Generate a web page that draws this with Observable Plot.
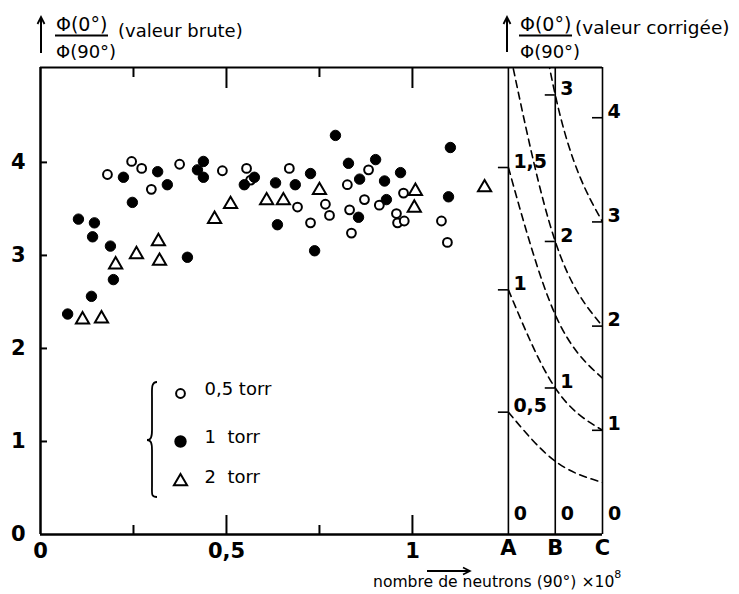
<!DOCTYPE html>
<html>
<head>
<meta charset="utf-8">
<script src="https://cdn.jsdelivr.net/npm/d3@7"></script>
<script src="https://cdn.jsdelivr.net/npm/@observablehq/plot@0.6"></script>
<style>
  html, body { margin: 0; padding: 0; background: #fff; }
  #chart { width: 739px; height: 594px; }
  svg text { font-family: "DejaVu Sans", sans-serif; }
</style>
</head>
<body>
<div id="chart"></div>
<script>
// ---------- DATA ----------
// x: nombre de neutrons (90°) ×10^8 ; y: Φ(0°)/Φ(90°) valeur brute
const torr05 = [
  [0.180,3.87],[0.245,4.01],[0.272,3.935],[0.298,3.71],[0.374,3.98],[0.489,3.91],
  [0.554,3.935],[0.565,3.81],[0.669,3.935],[0.691,3.52],[0.726,3.35],[0.766,3.55],
  [0.777,3.43],[0.825,3.76],[0.831,3.49],[0.836,3.24],[0.871,3.60],[0.882,3.92],
  [0.911,3.54],[0.957,3.45],[0.960,3.35],[0.976,3.67],[0.978,3.37],[1.078,3.37],[1.094,3.14]
];
const torr1 = [
  [0.073,2.37],[0.102,3.39],[0.137,2.56],[0.140,3.20],[0.145,3.35],[0.188,3.10],
  [0.196,2.74],[0.223,3.84],[0.247,3.57],[0.315,3.90],[0.341,3.76],[0.395,2.98],
  [0.422,3.92],[0.438,4.01],[0.438,3.84],[0.548,3.76],[0.575,3.84],[0.632,3.78],
  [0.637,3.33],[0.685,3.76],[0.726,3.88],[0.737,3.05],[0.793,4.29],[0.828,3.99],
  [0.855,3.41],[0.858,3.82],[0.901,4.03],[0.925,3.80],[0.930,3.60],[0.968,3.89],
  [1.097,3.63],[1.102,4.16]
];
const torr2 = [
  [0.113,2.31],[0.164,2.32],[0.202,2.90],[0.258,3.01],[0.317,3.15],[0.320,2.94],
  [0.468,3.39],[0.511,3.55],[0.608,3.59],[0.653,3.59],[0.750,3.70],[1.005,3.51],
  [1.008,3.69],[1.194,3.73]
];

// main axes
const yTicks = [0, 1, 2, 3, 4];
const xLabelTicks = [0, 0.5, 1];
const xMajorTicks = [0.5, 1];
const xMinorTicks = [0.25, 0.75];
const xMax = 1.511;
const yMax = 5.02;

// corrected-value axes A, B, C
const abcLabels = ["A", "B", "C"];
const abcX = [1.258, 1.384, 1.511];          // position on the x scale
const abcUnit = [2.63, 1.575, 1.12];         // raw-axis units per corrected unit
const abcTicks = [[0.5, 1, 1.5], [1, 2, 3], [1, 2, 3, 4]];
const curveValues = [0.5, 1, 1.5, 2, 3];     // dashed iso-lines

// legend
const legendRows = [
  {label: "0,5 torr", symbol: "circle", fill: "white", r: 4.4},
  {label: "1\u00a0\u00a0torr", symbol: "circle", fill: "black", r: 5.2},
  {label: "2\u00a0\u00a0torr", symbol: "triangle", fill: "white", r: 4.9}
];
const legendDy = [-141, -93, -53];

// ---------- BUILD ----------
const W = 739, H = 594, mL = 40, mT = 67, mB = 60, mR = 739 - 602;
const pxX = xMax / (W - mL - mR);
const pxY = yMax / (H - mT - mB);
const fmt = d => String(d).replace(".", ",");

const rightTicks = abcTicks.flatMap((ts, i) => ts.map(t => ({x: abcX[i], y: t * abcUnit[i], label: fmt(t)})));
const curvePts = curveValues.flatMap(v => abcX.map((x, i) => ({v, x, y: v * abcUnit[i]})));
const pts = arr => arr.map(([x, y]) => ({x, y}));

const legendMarks = legendRows.flatMap((r, i) => [
  Plot.dot([r], {frameAnchor: "bottom-left", dx: 140, dy: legendDy[i], symbol: () => r.symbol,
    r: r.r, fill: r.fill, stroke: "black", strokeWidth: 2}),
  Plot.text([r], {frameAnchor: "bottom-left", dx: 164, dy: legendDy[i] + 1, text: "label",
    textAnchor: "start", fontSize: 18, fill: "black"})
]);

const plot = Plot.plot({
  width: W, height: H,
  marginLeft: mL, marginTop: mT, marginBottom: mB, marginRight: mR,
  x: {domain: [0, xMax], axis: null},
  y: {domain: [0, yMax], axis: null},
  symbol: {type: "identity"},
  style: {background: "white", color: "black", fontFamily: "DejaVu Sans", overflow: "visible"},
  marks: [
    // frame
    Plot.ruleX([0], {y1: 0, y2: yMax, strokeWidth: 2.5}),
    Plot.ruleY([0], {x1: 0, x2: abcX[2], strokeWidth: 2.5}),
    Plot.ruleY([yMax], {x1: 0, x2: abcX[2], strokeWidth: 2}),
    Plot.ruleX(abcX, {y1: 0, y2: yMax, strokeWidth: 1.6}),
    // main ticks
    Plot.ruleY(yTicks.slice(1), {x1: 0, x2: 7 * pxX, strokeWidth: 2}),
    Plot.ruleX(xMajorTicks, {y1: 0, y2: 19 * pxY, strokeWidth: 2}),
    Plot.ruleX(xMinorTicks, {y1: 0, y2: 9 * pxY, strokeWidth: 2}),
    Plot.ruleX(xMajorTicks, {y1: yMax, y2: yMax - 21 * pxY, strokeWidth: 2}),
    Plot.ruleX(xMinorTicks, {y1: yMax, y2: yMax - 10 * pxY, strokeWidth: 2}),
    Plot.axisY(yTicks, {anchor: "left", label: null, tickSize: 0, tickPadding: 15, fontSize: 21, fontWeight: "bold", tickFormat: fmt}),
    Plot.axisX(xLabelTicks, {anchor: "bottom", label: null, tickSize: 0, tickPadding: 9, fontSize: 21, fontWeight: "bold", tickFormat: fmt}),
    Plot.text(abcLabels, {x: (d, i) => abcX[i], frameAnchor: "bottom", dy: 20, fontSize: 21, fontWeight: "bold", text: d => d}),
    // corrected axes
    Plot.line(curvePts, {x: "x", y: "y", z: "v", curve: "natural", stroke: "black", strokeWidth: 1.6,
      strokeDasharray: "7,5", clip: true}),
    Plot.ruleY(rightTicks, {y: "y", x1: d => d.x - 10 * pxX, x2: "x", strokeWidth: 1.6}),
    Plot.text(rightTicks, {x: "x", y: "y", text: "label", textAnchor: "start", dx: 5, dy: -6, fontSize: 19, fontWeight: "bold"}),
    Plot.text(abcX, {x: d => d, frameAnchor: "bottom", dx: 12, dy: -15, text: () => "0", fontSize: 19, fontWeight: "bold"}),
    // data
    Plot.dot(pts(torr05), {x: "x", y: "y", r: 4.4, fill: "white", stroke: "black", strokeWidth: 2}),
    Plot.dot(pts(torr2), {x: "x", y: "y", r: 4.9, symbol: "triangle", fill: "white", stroke: "black", strokeWidth: 2}),
    Plot.dot(pts(torr1), {x: "x", y: "y", r: 5.2, fill: "black", stroke: "black", strokeWidth: 1}),
    ...legendMarks
  ]
});

document.getElementById("chart").appendChild(plot);

// ---------- ANNOTATIONS (titles, arrows, brace) ----------
const svg = d3.select(plot);
const g = svg.append("g").attr("fill", "none").attr("stroke", "black");
const tg = svg.append("g").attr("fill", "black").attr("stroke", "none")
  .attr("text-anchor", "start").attr("font-family", "DejaVu Sans");

function upArrow(x, yTop, yBot) {
  g.append("path").attr("d", `M${x},${yBot}L${x},${yTop}`).attr("stroke-width", 2);
  g.append("path").attr("d", `M${x-3.5},${yTop+7}L${x},${yTop}L${x+3.5},${yTop+7}`).attr("stroke-width", 1.8);
}
function ratio(x, label, lx, ly, fs) {
  tg.append("text").attr("x", x).attr("y", 31).attr("font-size", 19).text("Φ(0°)");
  g.append("path").attr("d", `M${x-1},35.5L${x+52},35.5`).attr("stroke-width", 2);
  tg.append("text").attr("x", x).attr("y", 58).attr("font-size", 18).text("Φ(90°)");
  tg.append("text").attr("x", lx).attr("y", ly).attr("font-size", fs).text(label);
}
upArrow(41, 17, 53);
ratio(56, "(valeur brute)", 118, 37, 18);
upArrow(507, 17, 52);
ratio(520, "(valeur corrigée)", 575, 34, 18.5);

// x title
g.append("path").attr("d", "M427,571L470,571").attr("stroke-width", 1.8);
g.append("path").attr("d", "M463,567.5L470,571L463,574.5").attr("stroke-width", 1.6);
const xt = tg.append("text").attr("x", 373).attr("y", 587).attr("font-size", 15.6);
xt.append("tspan").text("nombre de neutrons (90°) ×10");
xt.append("tspan").attr("dy", -9).attr("font-size", 11).text("8");

// legend brace
g.append("path")
  .attr("d", "M157,382C151,382 152,389 152,398L152,430C152,437 151,440 147,440C151,440 152,443 152,450L152,486C152,494 151,497 157,497")
  .attr("stroke-width", 1.8);
</script>
</body>
</html>
